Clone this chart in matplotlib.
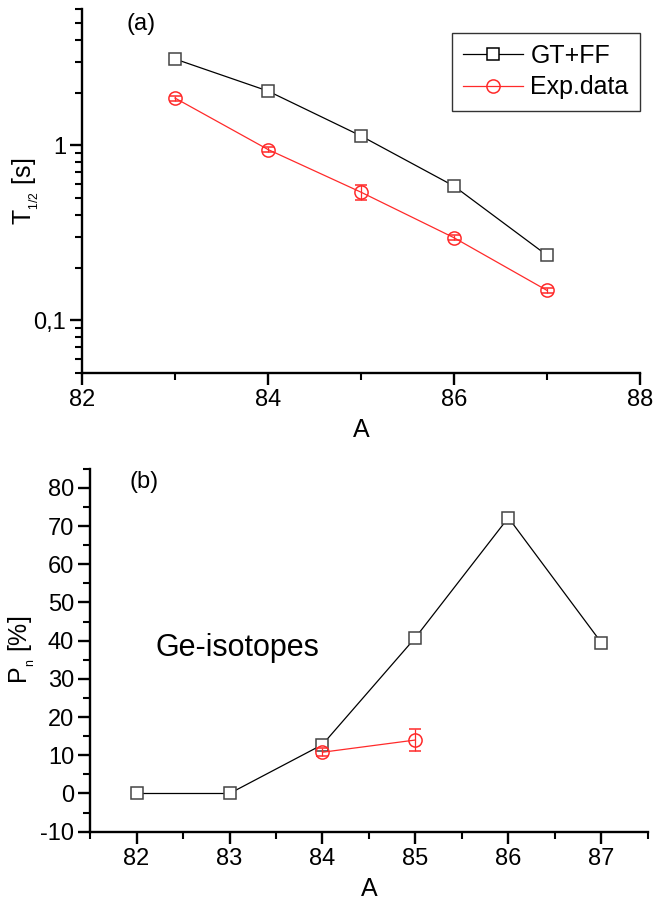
import numpy as np
import matplotlib
matplotlib.use("Agg")
import matplotlib.pyplot as plt
from matplotlib.lines import Line2D
from matplotlib.ticker import FixedLocator, MultipleLocator, FuncFormatter, LogLocator, NullFormatter

plt.rcParams['font.family'] = ['Liberation Sans', 'DejaVu Sans']
plt.rcParams['mathtext.fontset'] = 'custom'
plt.rcParams['mathtext.rm'] = 'Liberation Sans'
plt.rcParams['mathtext.it'] = 'Liberation Sans'
plt.rcParams['mathtext.default'] = 'regular'
plt.rcParams['axes.unicode_minus'] = False

# half-lives (panel a)
A_t = [83, 84, 85, 86, 87]
t_gtff = [3.11, 2.04, 1.13, 0.584, 0.235]
t_exp = [1.86, 0.945, 0.539, 0.296, 0.148]
t_exp_err = [0.06, 0.03, 0.05, 0.01, 0.005]

# neutron emission probability (panel b)
A_p = [82, 83, 84, 85, 86, 87]
pn_gtff = [0.0, 0.0, 12.8, 40.8, 72.2, 39.5]
A_pexp = [84, 85]
pn_exp = [10.8, 14.0]
pn_exp_err = [1.0, 3.0]

RED = '#ff2a2a'
SQ = '#444444'

fig = plt.figure(figsize=(6.53, 9.05), dpi=100)

# ---- panel (a)
a = fig.add_axes([0.1256, 0.588, 0.8544, 0.402])
a.plot(A_t, t_gtff, '-', color='black', lw=0.9, marker='s', ms=8.5,
       mfc='white', mec=SQ, mew=1.1, zorder=3)
a.errorbar(A_t, t_exp, yerr=t_exp_err, fmt='-', color=RED, lw=0.9, marker='o', ms=9.5,
           mfc='none', mec=RED, mew=1.1, ecolor=RED, elinewidth=0.9, capsize=4, zorder=3)
a.set_yscale('log')
a.set_xlim(82, 88)
a.set_ylim(0.05, 6)
a.xaxis.set_major_locator(FixedLocator([82, 84, 86, 88]))
a.xaxis.set_minor_locator(FixedLocator([83, 85, 87]))
a.yaxis.set_major_locator(FixedLocator([0.1, 1]))
a.yaxis.set_minor_locator(LogLocator(base=10, subs=np.arange(2, 10)))
a.yaxis.set_minor_formatter(NullFormatter())
a.yaxis.set_major_formatter(FuncFormatter(lambda v, p: '1' if v >= 1 else '0,1'))
a.set_xlabel('A', fontsize=18, labelpad=5)
a.set_ylabel('T$_{_{1/2}}$ [s]', fontsize=18)
a.yaxis.set_label_coords(-0.074, 0.5)
a.text(82.48, 4.55, '(a)', fontsize=17)

h1 = Line2D([], [], color='black', lw=0.9, marker='s', ms=8.5, mfc='white', mec='black', mew=1.1)
h2 = Line2D([], [], color=RED, lw=0.9, marker='o', ms=9.5, mfc='none', mec=RED, mew=1.1)
leg = a.legend([h1, h2], ['GT+FF', 'Exp.data'], loc='upper right',
               bbox_to_anchor=(1.0, 0.935), fontsize=18,
               frameon=True, fancybox=False, edgecolor='black', handlelength=2.4,
               borderpad=0.45, labelspacing=0.3, handletextpad=0.3, borderaxespad=0.0)
leg.get_frame().set_linewidth(1.0)

# ---- panel (b)
b = fig.add_axes([0.138, 0.081, 0.854, 0.401])
b.plot(A_p, pn_gtff, '-', color='black', lw=0.9, marker='s', ms=8.5,
       mfc='white', mec=SQ, mew=1.1, zorder=3)
b.errorbar(A_pexp, pn_exp, yerr=pn_exp_err, fmt='-', color=RED, lw=0.9, marker='o', ms=9.5,
           mfc='none', mec=RED, mew=1.1, ecolor=RED, elinewidth=0.9, capsize=4, zorder=3)
b.set_xlim(81.5, 87.5)
b.set_ylim(-10, 85)
b.xaxis.set_major_locator(FixedLocator([82, 83, 84, 85, 86, 87]))
b.xaxis.set_minor_locator(MultipleLocator(0.5))
b.yaxis.set_major_locator(MultipleLocator(10))
b.yaxis.set_minor_locator(MultipleLocator(5))
b.set_xlabel('A', fontsize=18, labelpad=5)
b.set_ylabel('P$_{_n}$ [%]', fontsize=18)
b.yaxis.set_label_coords(-0.095, 0.5)
b.text(81.92, 81.5, '(b)', fontsize=17, va='center')
b.text(82.2, 38.2, 'Ge-isotopes', fontsize=22, va='center')

for ax in (a, b):
    ax.spines['top'].set_visible(False)
    ax.spines['right'].set_visible(False)
    ax.spines['left'].set_linewidth(1.7)
    ax.spines['bottom'].set_linewidth(1.7)
    ax.tick_params(which='major', direction='out', length=8.5, width=1.7, labelsize=17, pad=3)
    ax.tick_params(which='minor', direction='out', length=5, width=1.5)

fig.savefig('out.png', dpi=100)
